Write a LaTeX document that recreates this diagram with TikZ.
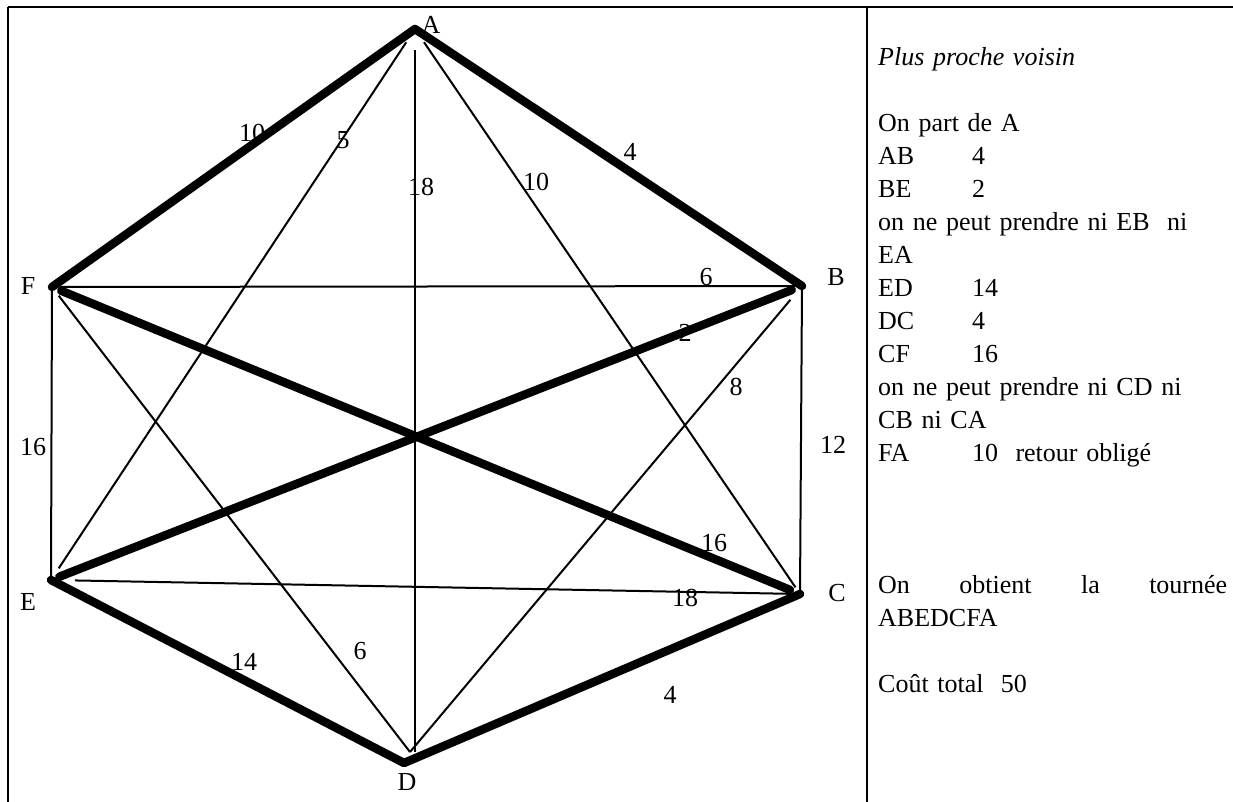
\documentclass[tikz,border=0pt]{standalone}
\usepackage{fontspec}
\setmainfont{Liberation Serif}
\usetikzlibrary{positioning}

\tikzset{
  tour/.style={line width=8.5pt, line cap=round, line join=round},
  arete/.style={line width=2pt},
  poids/.style={font=\fontsize{26}{30}\selectfont, inner sep=0pt},
  sommet/.style={font=\fontsize{26}{30}\selectfont, inner sep=0pt},
  notes/.style={font=\fontsize{26}{33}\selectfont, inner sep=0pt, align=left, text width=352pt},
}

\begin{document}
\begin{tikzpicture}[x=1pt, y=-1pt]
  \useasboundingbox (0,0) rectangle (1233,802);
  % Cadre
  \draw[line width=2.5pt] (8,7) -- (1233,7);
  \draw[line width=2pt] (8,7) -- (8,802);
  \draw[line width=2pt] (867,7) -- (867,802);

  % Sommets
  \coordinate (A) at (415,29);
  \coordinate (B) at (802,286);
  \coordinate (C) at (800,594);
  \coordinate (D) at (404,763);
  \coordinate (E) at (51,580);
  \coordinate (F) at (52,287);
  \coordinate (Dn) at (410,752);
  \node[sommet] (nA) at (431,25) {A};
  \node[sommet] (nB) at (836,277) {B};
  \node[sommet] (nC) at (837,593) {C};
  \node[sommet] (nD) at (407,782) {D};
  \node[sommet] (nE) at (28,602) {E};
  \node[sommet] (nF) at (28,286) {F};

  % Aretes fines
  \draw[arete, shorten <=16pt, shorten >=14pt] (A) -- (E);
  \draw[arete, shorten <=16pt, shorten >=8pt] (A) -- (C);
  \draw[arete, shorten <=21pt] (A) -- (A |- Dn);
  \draw[arete, shorten <=8pt, shorten >=2pt] (F) -- (B);
  \draw[arete, shorten <=11pt] (F) -- (Dn);
  \draw[arete, shorten <=18pt] (B) -- (Dn);
  \draw[arete, shorten <=24pt, shorten >=10pt] (E) -- (C);
  \draw[arete, shorten <=3pt, shorten >=3pt] (F) -- (E);
  \draw[arete, shorten <=3pt, shorten >=3pt] (B) -- (C);

  % Tournee
  \draw[tour] (F) -- (A) -- (B);
  \draw[tour] (E) -- (D) -- (C);
  \draw[tour, shorten <=10pt, shorten >=11pt] (F) -- (C);
  \draw[tour, shorten <=9pt, shorten >=11pt] (E) -- (B);

  % Poids
  \node[poids] (pAF) at (252,133) {10};
  \node[poids] (pAE) at (343,140) {5};
  \node[poids] (pAD) at (421,187) {18};
  \node[poids] (pAC) at (536,182) {10};
  \node[poids] (pAB) at (630,152) {4};
  \node[poids] (pFB) at (706,277) {6};
  \node[poids] (pEB) at (685,333) {2};
  \node[poids] (pBD) at (736,387) {8};
  \node[poids] (pFE) at (33,447) {16};
  \node[poids] (pBC) at (833,445) {12};
  \node[poids] (pFC) at (714,543) {16};
  \node[poids] (pEC) at (685,598) {18};
  \node[poids] (pED) at (244,662) {14};
  \node[poids] (pFD) at (360,651) {6};
  \node[poids] (pDC) at (670,695) {4};

  % Texte
  \node[notes, anchor=north west] (txt) at (878,47) {%
    \textit{Plus proche voisin}\\[33pt]
    On part de A\\
    \makebox[94pt][l]{AB}4\\
    \makebox[94pt][l]{BE}2\\
    on ne peut prendre ni EB\ \ ni\\
    EA\\
    \makebox[94pt][l]{ED}14\\
    \makebox[94pt][l]{DC}4\\
    \makebox[94pt][l]{CF}16\\
    on ne peut prendre ni CD ni\\
    CB ni CA\\
    \makebox[94pt][l]{FA}10\ \ retour obligé\\[99pt]
    \makebox[349pt][s]{On\hfill obtient\hfill la\hfill tournée}\\
    ABEDCFA\\[33pt]
    Coût total\ \ 50};
\end{tikzpicture}
\end{document}
